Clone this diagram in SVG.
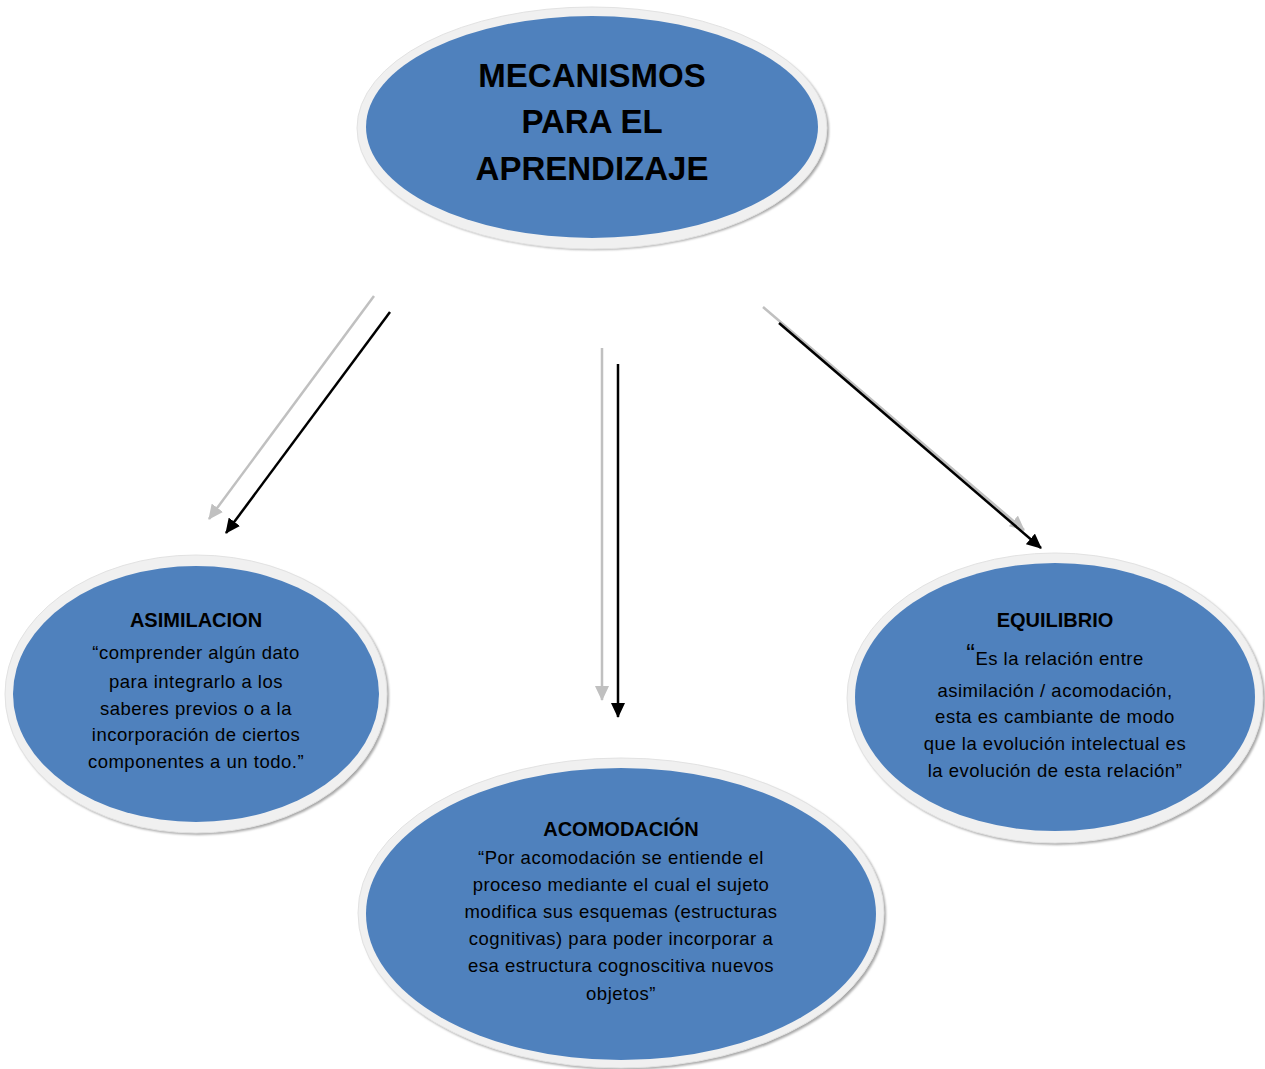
<svg xmlns="http://www.w3.org/2000/svg" width="1265" height="1069" viewBox="0 0 1265 1069">
<defs>
<style>
.shadow{fill:#a8a8a8;}
.ring{fill:#f0f0f0;stroke:#e2e2e2;stroke-width:1;}
.core{fill:#4f81bd;}
.title{font-family:"Liberation Sans",Arial,sans-serif;font-weight:bold;fill:#000;text-anchor:middle;}
.body{font-family:"Liberation Sans",Arial,sans-serif;font-size:18.5px;fill:#000;text-anchor:middle;letter-spacing:0.5px;}
.grey{stroke:#c0c0c0;stroke-width:2.5;fill:none;}
.black{stroke:#000;stroke-width:2.5;fill:none;}
</style>
<filter id="blur" x="-5%" y="-5%" width="110%" height="110%"><feGaussianBlur stdDeviation="0.8"/></filter>
<marker id="ag" markerWidth="15" markerHeight="14" refX="14" refY="7" orient="auto" markerUnits="userSpaceOnUse" viewBox="0 0 15 14"><path d="M0,0 L15,7 L0,14 z" fill="#c0c0c0"/></marker>
<marker id="ab" markerWidth="15" markerHeight="14" refX="14" refY="7" orient="auto" markerUnits="userSpaceOnUse" viewBox="0 0 15 14"><path d="M0,0 L15,7 L0,14 z" fill="#000"/></marker>
</defs>
<rect width="1265" height="1069" fill="#fff"/>

<g id="connectors">
<line class="grey" x1="374" y1="296" x2="209" y2="519" marker-end="url(#ag)"/>
<line class="black" x1="390" y1="312" x2="226" y2="533" marker-end="url(#ab)"/>
<line class="grey" x1="602" y1="348" x2="602" y2="700" marker-end="url(#ag)"/>
<line class="black" x1="618" y1="364" x2="618" y2="717" marker-end="url(#ab)"/>
<line class="grey" x1="763" y1="307" x2="1024" y2="530" marker-end="url(#ag)"/>
<line class="black" x1="779" y1="323" x2="1041" y2="548" marker-end="url(#ab)"/>
</g>

<g id="node-mecanismos">
<ellipse class="shadow" cx="594" cy="130" rx="235" ry="120" filter="url(#blur)"/>
<ellipse class="ring" cx="592" cy="128" rx="235" ry="121"/>
<ellipse class="core" cx="592" cy="127" rx="226" ry="111"/>
<text class="title" font-size="33" x="592" y="87">MECANISMOS</text>
<text class="title" font-size="33" x="592" y="133">PARA EL</text>
<text class="title" font-size="33" x="592" y="180">APRENDIZAJE</text>
</g>

<g id="node-asimilacion">
<ellipse class="shadow" cx="198" cy="696" rx="191" ry="139" filter="url(#blur)"/>
<ellipse class="ring" cx="196" cy="694" rx="191" ry="139"/>
<ellipse class="core" cx="196" cy="694" rx="183" ry="128"/>
<text class="title" font-size="20" x="196" y="627">ASIMILACION</text>
<text class="body" x="196" y="659">“comprender algún dato</text>
<text class="body" x="196" y="688">para integrarlo a los</text>
<text class="body" x="196" y="715">saberes previos o a la</text>
<text class="body" x="196" y="741">incorporación de ciertos</text>
<text class="body" x="196" y="768">componentes a un todo.”</text>
</g>

<g id="node-equilibrio">
<ellipse class="shadow" cx="1057" cy="700" rx="208" ry="145" filter="url(#blur)"/>
<ellipse class="ring" cx="1055" cy="698" rx="208" ry="145"/>
<ellipse class="core" cx="1055" cy="697" rx="200" ry="134"/>
<text class="title" font-size="20" x="1055" y="627">EQUILIBRIO</text>
<text class="body" x="1055" y="665"><tspan font-size="26" dy="-3">“</tspan><tspan dy="3">Es la relación entre</tspan></text>
<text class="body" x="1055" y="697">asimilación / acomodación,</text>
<text class="body" x="1055" y="723">esta es cambiante de modo</text>
<text class="body" x="1055" y="750">que la evolución intelectual es</text>
<text class="body" x="1055" y="777">la evolución de esta relación”</text>
</g>

<g id="node-acomodacion">
<ellipse class="shadow" cx="623" cy="915" rx="263" ry="155" filter="url(#blur)"/>
<ellipse class="ring" cx="621" cy="913" rx="263" ry="155"/>
<ellipse class="core" cx="621" cy="914" rx="255" ry="146"/>
<text class="title" font-size="20" x="621" y="836">ACOMODACIÓN</text>
<text class="body" x="621" y="864">“Por acomodación se entiende el</text>
<text class="body" x="621" y="891">proceso mediante el cual el sujeto</text>
<text class="body" x="621" y="918">modifica sus  esquemas (estructuras</text>
<text class="body" x="621" y="945">cognitivas) para poder incorporar  a</text>
<text class="body" x="621" y="972">esa estructura cognoscitiva  nuevos</text>
<text class="body" x="621" y="1000">objetos”</text>
</g>
</svg>
